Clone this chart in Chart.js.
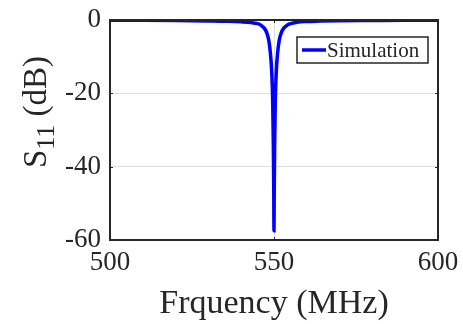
<!doctype html>
<html>
<head>
	<meta charset=utf-8>
	<title>S11</title>
	<script src="https://cdn.jsdelivr.net/npm/chart.js@4/dist/chart.umd.min.js"></script>
	<style>
		html, body { margin: 0; padding: 0; background: #fff; }
		#holder { width: 463px; height: 324px; }
	</style>
</head>
<body>
	<div id="holder"><canvas id="chart"></canvas></div>
	<script>
		// values
		var freqs = [500, 510, 520, 530, 536, 540, 543, 545, 546, 547, 547.8, 548.4, 548.9, 549.3, 549.6, 549.8, 549.92, 550,
			550.08, 550.2, 550.4, 550.7, 551.1, 551.6, 552.2, 553, 554, 555, 557, 560, 564, 570, 580, 590, 600];
		var s11 = [-0.1, -0.1, -0.15, -0.25, -0.35, -0.5, -0.7, -1.0, -1.4, -2.2, -3.5, -5.5, -9, -14, -22, -34, -46, -57.5,
			-46, -34, -22, -14, -9, -5.5, -3.5, -2.2, -1.4, -1.0, -0.6, -0.4, -0.3, -0.2, -0.15, -0.1, -0.1];
		var xTicks = [500, 550, 600];
		var yTicks = [-60, -40, -20, 0];

		var serif = '"Liberation Serif", "Times New Roman", serif';
		var ink = '#262626';

		var frame = {
			id: 'frame',
			afterDraw: function(chart) {
				var a = chart.chartArea, c = chart.ctx;
				c.save();
				// little inward ticks
				c.strokeStyle = ink;
				c.lineWidth = 1;
				var xs = chart.scales.x, ys = chart.scales.y;
				xTicks.forEach(function(v) {
					var px = Math.round(xs.getPixelForValue(v)) + 0.5;
					c.beginPath(); c.moveTo(px, a.bottom); c.lineTo(px, a.bottom - 3);
					c.moveTo(px, a.top); c.lineTo(px, a.top + 3); c.stroke();
				});
				yTicks.forEach(function(v) {
					var py = Math.round(ys.getPixelForValue(v)) + 0.5;
					c.beginPath(); c.moveTo(a.left, py); c.lineTo(a.left + 3, py);
					c.moveTo(a.right, py); c.lineTo(a.right - 3, py); c.stroke();
				});
				// box
				c.lineWidth = 2;
				c.strokeStyle = ink;
				c.strokeRect(a.left, a.top, a.right - a.left, a.bottom - a.top);
				c.restore();
			},
			afterDatasetsDraw: function(chart) {
				var c = chart.ctx;
				c.save();
				// legend box
				var bx = 297, by = 37, bw = 131, bh = 26;
				c.fillStyle = '#fff';
				c.fillRect(bx, by, bw, bh);
				c.strokeStyle = ink;
				c.lineWidth = 1.5;
				c.strokeRect(bx, by, bw, bh);
				c.strokeStyle = 'rgb(0,0,255)';
				c.lineWidth = 3.5;
				c.beginPath(); c.moveTo(bx + 5, by + 13); c.lineTo(bx + 29, by + 13); c.stroke();
				c.fillStyle = ink;
				c.font = '21px ' + serif;
				c.textBaseline = 'middle';
				c.fillText(chart.data.datasets[0].label, bx + 30, by + 14);
				// y title with subscript
				c.translate(34, 112);
				c.rotate(-Math.PI / 2);
				var big = '33px ' + serif, small = '26px ' + serif;
				c.font = big; var w1 = c.measureText('S').width;
				c.font = small; var w2 = c.measureText('11').width;
				c.font = big; var w3 = c.measureText(' (dB)').width;
				var x0 = -(w1 + w2 + w3) / 2;
				c.textBaseline = 'alphabetic';
				c.font = big; c.fillText('S', x0, 12);
				c.font = small; c.fillText('11', x0 + w1, 20);
				c.font = big; c.fillText(' (dB)', x0 + w1 + w2, 12);
				c.restore();
			}
		};

		new Chart(document.getElementById('chart'), {
			type: 'line',
			data: {
				datasets: [{
					label: 'Simulation',
					data: freqs.map(function(f, i) { return { x: f, y: s11[i] }; }),
					borderColor: 'rgb(0,0,255)',
					borderWidth: 3.5,
					pointRadius: 0,
					cubicInterpolationMode: 'monotone',
					fill: false
				}]
			},
			options: {
				responsive: true,
				maintainAspectRatio: false,
				animation: false,
				layout: { padding: { left: 0, right: 25, top: 20, bottom: 0 } },
				plugins: { legend: { display: false }, tooltip: { enabled: false } },
				scales: {
					x: {
						type: 'linear', min: 500, max: 600,
						afterBuildTicks: function(s) { s.ticks = xTicks.map(function(v) { return { value: v }; }); },
						afterFit: function(s) { s.height = 84; s.paddingLeft = 0; s.paddingRight = 0; },
						ticks: { color: ink, font: { family: serif, size: 27 }, padding: 7, maxRotation: 0 },
						grid: { color: '#dedede', lineWidth: 1, drawTicks: false },
						border: { display: false },
						title: { display: true, text: 'Frquency (MHz)', color: ink, font: { family: serif, size: 34 }, padding: { top: 3, bottom: 0 } }
					},
					y: {
						min: -60, max: 0,
						afterBuildTicks: function(s) { s.ticks = yTicks.map(function(v) { return { value: v }; }); },
						afterFit: function(s) { s.width = 110; s.paddingTop = 0; s.paddingBottom = 0; },
						ticks: { color: ink, font: { family: serif, size: 27 }, padding: 9 },
						grid: { color: '#dedede', lineWidth: 1, drawTicks: false },
						border: { display: false }
					}
				}
			},
			plugins: [frame]
		});
	</script>
</body>
</html>
